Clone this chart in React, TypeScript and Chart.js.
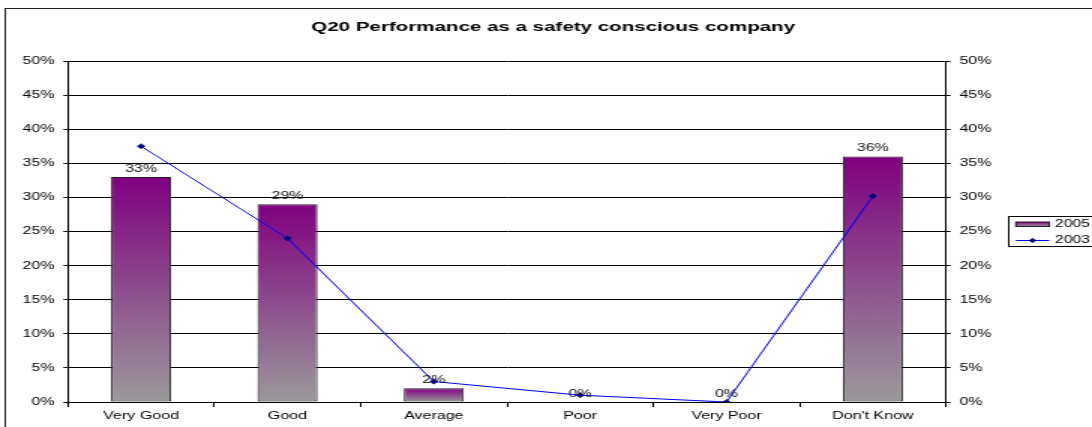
import { useEffect, useRef } from "react";
import { Chart, registerables } from "chart.js";

Chart.register(...registerables);

// Survey results, percent of respondents per answer
const categories = ["Very Good", "Good", "Average", "Poor", "Very Poor", "Don't Know"];
const values2005 = [33, 29, 2, 0, 0, 36];
const values2003 = [37.5, 24, 3, 1, 0, 30.2];
const seriesLabels = ["2005", "2003"];
const chartTitle = "Q20 Performance as a safety conscious company";
const axisMin = 0;
const axisMax = 50;
const axisStep = 5;

// Drawing surface: the chart is laid out on a narrower canvas and widened 1.5x
const W = 728;
const H = 427;
const STRETCH = 1.5;
const PLOT_LEFT = 45.3;
const PLOT_RIGHT = 630.7;
const PLOT_TOP = 61;
const PLOT_BOTTOM = 402;

const FONT = '"Liberation Sans", Arial, sans-serif';
const PURPLE = "#800080";
const GREY = "#9a9a9a";
const BAR_EDGE = "#1e1e1e";
const LINE_BLUE = "#0000ff";
const MARKER_NAVY = "#000080";

const pct = (v: number | string) => `${v}%`;

function barGradient(ctx: CanvasRenderingContext2D, top: number, bottom: number) {
  const g = ctx.createLinearGradient(0, top, 0, bottom);
  g.addColorStop(0, PURPLE);
  g.addColorStop(1, GREY);
  return g;
}

function diamond(ctx: CanvasRenderingContext2D, x: number, y: number, r: number) {
  ctx.beginPath();
  ctx.moveTo(x, y - r);
  ctx.lineTo(x + r, y);
  ctx.lineTo(x, y + r);
  ctx.lineTo(x - r, y);
  ctx.closePath();
  ctx.fill();
}

// Background, outer frame, title and legend
const framePlugin = {
  id: "frame",
  beforeDraw(chart: Chart) {
    const ctx = chart.ctx;
    ctx.save();
    ctx.fillStyle = "#ffffff";
    ctx.fillRect(0, 0, chart.width, chart.height);
    ctx.strokeStyle = "#222222";
    ctx.lineWidth = 1;
    ctx.strokeRect(3.5, 8.5, chart.width + 20, chart.height + 20);
    ctx.restore();
  },
  afterDraw(chart: Chart) {
    const ctx = chart.ctx;
    ctx.save();
    ctx.fillStyle = "#000000";
    ctx.font = `bold 13.7px ${FONT}`;
    ctx.textAlign = "center";
    ctx.textBaseline = "alphabetic";
    ctx.fillText(chartTitle, 368.8, 31);

    // legend box
    const ds = chart.data.datasets;
    ctx.strokeStyle = "#000000";
    ctx.lineWidth = 1;
    ctx.strokeRect(672.5, 216.5, 120, 30);

    // bar swatch
    ctx.fillStyle = barGradient(ctx, 222, 226.5);
    ctx.fillRect(677.3, 222, 22.2, 4.5);
    ctx.strokeStyle = BAR_EDGE;
    ctx.strokeRect(677.3, 222, 22.2, 4.5);

    // line swatch
    ctx.strokeStyle = LINE_BLUE;
    ctx.beginPath();
    ctx.moveTo(677.3, 240.5);
    ctx.lineTo(699.5, 240.5);
    ctx.stroke();
    ctx.fillStyle = MARKER_NAVY;
    diamond(ctx, 688.4, 240.5, 2.6);

    ctx.fillStyle = "#000000";
    ctx.font = `10.5px ${FONT}`;
    ctx.textAlign = "left";
    ctx.textBaseline = "middle";
    ctx.fillText(String(ds[0].label), 703.3, 224.5);
    ctx.fillText(String(ds[1].label), 703.3, 240.5);
    ctx.restore();
  },
};

// Percent labels above each bar
const barLabelPlugin = {
  id: "barLabels",
  afterDatasetsDraw(chart: Chart) {
    const meta = chart.getDatasetMeta(0);
    const data = chart.data.datasets[0].data as number[];
    const ctx = chart.ctx;
    ctx.save();
    ctx.fillStyle = "#111111";
    ctx.font = `10.7px ${FONT}`;
    ctx.textAlign = "center";
    ctx.textBaseline = "alphabetic";
    meta.data.forEach((el: any, i: number) => {
      ctx.fillText(pct(data[i]), el.x, el.y - 5);
    });
    ctx.restore();
  },
};

export default function App() {
  const canvasRef = useRef<HTMLCanvasElement | null>(null);

  useEffect(() => {
    const canvas = canvasRef.current;
    if (!canvas) return;

    const tickFont = { family: FONT, size: 10.6 };

    const chart = new Chart(canvas, {
      type: "bar",
      data: {
        labels: categories,
        datasets: [
          {
            type: "bar",
            label: seriesLabels[0],
            data: values2005,
            order: 1,
            yAxisID: "y",
            backgroundColor: (c: any) => {
              const y = c.chart.scales?.y;
              if (!y || c.type !== "data") return PURPLE;
              const v = c.parsed?.y ?? c.raw ?? 0;
              const top = y.getPixelForValue(v);
              const bottom = y.getPixelForValue(0);
              if (!isFinite(top) || !isFinite(bottom) || bottom - top < 0.5) return GREY;
              return barGradient(c.chart.ctx, top, bottom);
            },
            borderColor: BAR_EDGE,
            borderWidth: 1,
            borderSkipped: false,
            categoryPercentage: 1,
            barPercentage: 0.41,
          },
          {
            type: "line",
            label: seriesLabels[1],
            data: values2003,
            order: 0,
            yAxisID: "y",
            borderColor: LINE_BLUE,
            borderWidth: 1,
            tension: 0,
            fill: false,
            pointStyle: "rectRot",
            pointRadius: 2.6,
            pointBackgroundColor: MARKER_NAVY,
            pointBorderColor: MARKER_NAVY,
            pointBorderWidth: 0.5,
          },
        ],
      },
      options: {
        animation: false,
        responsive: false,
        devicePixelRatio: 1,
        layout: { padding: { top: PLOT_TOP, left: 0, right: 0, bottom: 0 } },
        plugins: {
          legend: { display: false },
          title: { display: false },
          tooltip: { enabled: false },
        },
        scales: {
          x: {
            type: "category",
            offset: true,
            grid: {
              offset: true,
              drawOnChartArea: false,
              drawTicks: true,
              tickLength: 5,
              color: "#000000",
              lineWidth: 1,
            },
            border: { color: "#000000", width: 1 },
            ticks: {
              color: "#000000",
              font: { family: FONT, size: 10.7 },
              padding: 3,
              maxRotation: 0,
              autoSkip: false,
            },
            afterFit: (s: any) => {
              s.height = H - PLOT_BOTTOM;
            },
          },
          y: {
            position: "left",
            min: axisMin,
            max: axisMax,
            ticks: {
              stepSize: axisStep,
              callback: (v: any) => pct(v),
              color: "#000000",
              font: tickFont,
              padding: 6,
            },
            grid: { color: "#000000", lineWidth: 1, tickLength: 3, drawTicks: true },
            border: { color: "#000000", width: 1 },
            afterFit: (s: any) => {
              s.width = PLOT_LEFT;
            },
          },
          y2: {
            position: "right",
            min: axisMin,
            max: axisMax,
            ticks: {
              stepSize: axisStep,
              callback: (v: any) => pct(v),
              color: "#000000",
              font: tickFont,
              padding: 6,
            },
            grid: {
              drawOnChartArea: false,
              color: "#000000",
              lineWidth: 1,
              tickLength: 3,
              drawTicks: true,
            },
            border: { color: "#000000", width: 1 },
            afterFit: (s: any) => {
              s.width = W - PLOT_RIGHT;
            },
          },
        },
      } as any,
      plugins: [framePlugin, barLabelPlugin],
    });

    return () => chart.destroy();
  }, []);

  return (
    <div
      style={{
        position: "absolute",
        left: 0,
        top: 0,
        width: W,
        height: H,
        transform: `scale(${STRETCH}, 1)`,
        transformOrigin: "0 0",
        overflow: "hidden",
      }}
    >
      <canvas
        ref={canvasRef}
        width={W}
        height={H}
        style={{ display: "block", width: W, height: H }}
      />
    </div>
  );
}
